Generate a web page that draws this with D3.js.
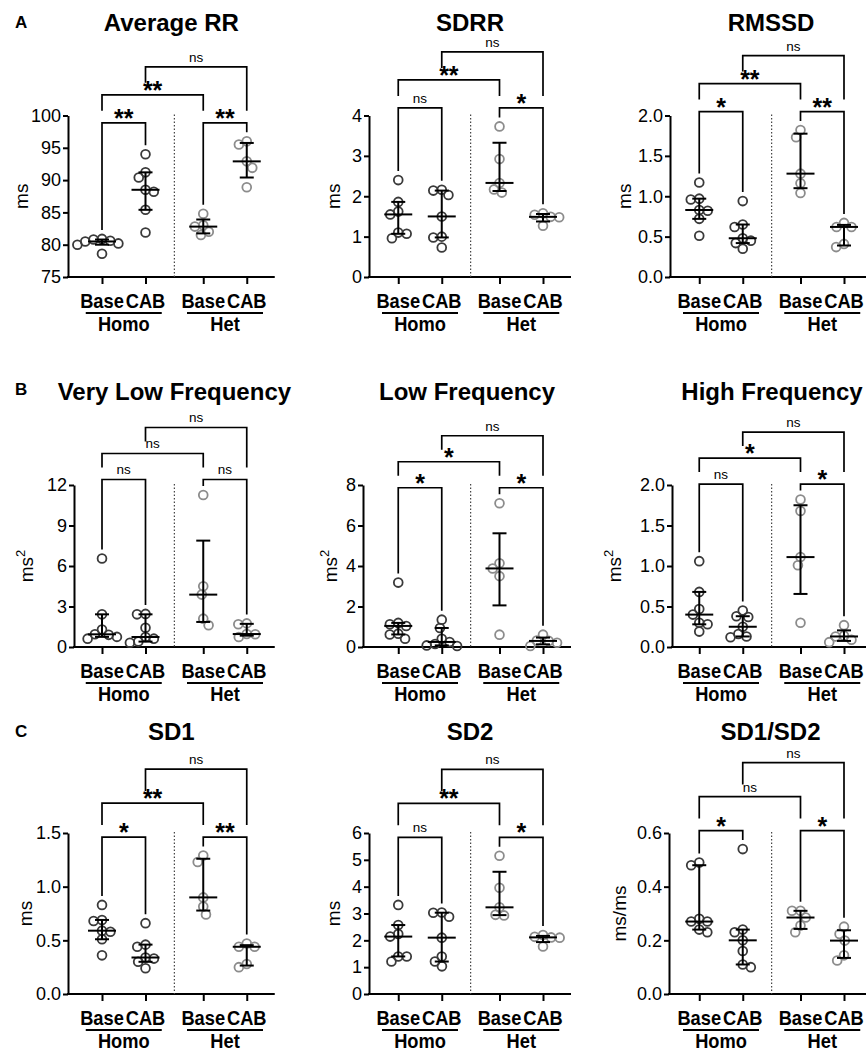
<!DOCTYPE html>
<html>
<head>
<meta charset="utf-8">
<script src="https://cdn.jsdelivr.net/npm/d3@7"></script>
<style>
  body { margin: 0; background: #fff; }
  svg { display: block; font-family: "Liberation Sans", Arial, sans-serif; }
</style>
</head>
<body>
<div id="chart"></div>
<script>
// ---- data ----
const genotypes = ['Homo', 'Het'];
const treatments = ['Base', 'CAB'];
const panelLetters = ['A', 'B', 'C'];
const titles = ['Average RR', 'SDRR', 'RMSSD', 'Very Low Frequency', 'Low Frequency',
  'High Frequency', 'SD1', 'SD2', 'SD1/SD2'];
const yUnits = ['ms', 'ms', 'ms', 'ms^2', 'ms^2', 'ms^2', 'ms', 'ms', 'ms/ms'];
const yDomains = [[75, 100], [0, 4], [0, 2], [0, 12], [0, 8], [0, 2], [0, 1.5], [0, 6], [0, 0.6]];
const yTicks = [
  [75, 80, 85, 90, 95, 100], [0, 1, 2, 3, 4], [0, 0.5, 1, 1.5, 2],
  [0, 3, 6, 9, 12], [0, 2, 4, 6, 8], [0, 0.5, 1, 1.5, 2],
  [0, 0.5, 1, 1.5], [0, 1, 2, 3, 4, 5, 6], [0, 0.2, 0.4, 0.6]
];
const tickDecimals = [0, 0, 1, 0, 0, 1, 1, 0, 1];

// groups in order: Homo Base, Homo CAB, Het Base, Het CAB
const avgRR = [
  [80.9, 80.8, 80.6, 80.5, 80.2, 80.0, 78.6],
  [94.0, 91.2, 90.4, 88.5, 88.2, 85.4, 81.9],
  [84.8, 83.0, 82.8, 82.0, 81.5],
  [96.0, 95.5, 92.9, 91.9, 88.9]
];
const sdrr = [
  [2.40, 1.86, 1.62, 1.55, 1.10, 1.07, 0.96],
  [2.16, 2.14, 2.03, 1.50, 1.00, 0.98, 0.73],
  [3.73, 2.92, 2.33, 2.17, 2.09],
  [1.58, 1.54, 1.49, 1.48, 1.27]
];
const rmssd = [
  [1.17, 0.97, 0.96, 0.83, 0.82, 0.72, 0.51],
  [0.94, 0.65, 0.62, 0.48, 0.45, 0.42, 0.35],
  [1.82, 1.73, 1.28, 1.16, 1.04],
  [0.67, 0.62, 0.62, 0.41, 0.37]
];
const vlf = [
  [6.56, 2.42, 1.29, 0.94, 0.90, 0.75, 0.62],
  [2.45, 2.42, 1.43, 0.74, 0.62, 0.40, 0.32],
  [11.26, 4.50, 3.88, 2.10, 1.61],
  [1.75, 1.68, 0.96, 0.94, 0.74]
];
const lf = [
  [3.18, 1.19, 1.12, 1.04, 0.66, 0.62, 0.41],
  [1.35, 0.94, 0.41, 0.25, 0.15, 0.08, 0.05],
  [7.10, 4.13, 3.88, 3.50, 0.61],
  [0.61, 0.32, 0.30, 0.21, 0.05]
];
const hf = [
  [1.06, 0.68, 0.47, 0.40, 0.30, 0.28, 0.19],
  [0.45, 0.38, 0.37, 0.25, 0.16, 0.13, 0.12],
  [1.82, 1.68, 1.11, 1.01, 0.30],
  [0.27, 0.14, 0.13, 0.09, 0.06]
];
const sd1 = [
  [0.83, 0.69, 0.68, 0.59, 0.58, 0.51, 0.36],
  [0.66, 0.46, 0.44, 0.34, 0.33, 0.30, 0.24],
  [1.29, 1.23, 0.90, 0.815, 0.74],
  [0.47, 0.44, 0.44, 0.28, 0.25]
];
const sd2 = [
  [3.32, 2.57, 2.24, 2.14, 1.40, 1.40, 1.21],
  [3.04, 3.03, 2.88, 2.10, 1.40, 1.21, 1.03],
  [5.15, 3.96, 3.23, 2.95, 2.93],
  [2.20, 2.13, 2.11, 2.10, 1.77]
];
const sd1sd2 = [
  [0.49, 0.48, 0.28, 0.27, 0.27, 0.24, 0.23],
  [0.54, 0.24, 0.23, 0.20, 0.16, 0.11, 0.10],
  [0.31, 0.31, 0.285, 0.255, 0.23],
  [0.251, 0.224, 0.199, 0.144, 0.125]
];
const panelData = [avgRR, sdrr, rmssd, vlf, lf, hf, sd1, sd2, sd1sd2];

// comparisons: [groupA, groupB, level]
const comparisons = [[0, 1, 1], [2, 3, 1], [0, 2, 2], [1, 3, 3]];
const significance = [
  ['**', '**', '**', 'ns'],
  ['ns', '*', '**', 'ns'],
  ['*', '**', '**', 'ns'],
  ['ns', 'ns', 'ns', 'ns'],
  ['*', '*', '*', 'ns'],
  ['ns', '*', '*', 'ns'],
  ['*', '**', '**', 'ns'],
  ['ns', '*', '**', 'ns'],
  ['*', '*', 'ns', 'ns']
];

// ---- layout ----
const W = 866, H = 1053;
const rowTop = [115.5, 485, 833];
const rowBottom = [277, 647, 994];
const titleY = [31, 400, 740];
const letterY = [28, 395, 737];
const bracketGap = [18.5, 15.5, 18.5];
const bracketStep = [28, 26, 34];
const firstGroupX = [123.75, 420, 721];
const groupStep = 101.25;
const innerHalf = 21.75;
const axisXs = [[68, 369, 670], [74, 363, 672], [68, 369, 669]];
const yTitleXs = [[28, 340, 631], [33, 337, 621], [32, 340, 626]];
const genoColor = { Homo: '#3a3a3a', Het: '#8c8c8c' };

const svg = d3.select('#chart').append('svg')
  .attr('width', W)
  .attr('height', H);
svg.append('rect').attr('width', W).attr('height', H).attr('fill', '#fff');

// GraphPad style percentile: position p*(n+1)
function percentile(sorted, p) {
  const n = sorted.length;
  const h = p * (n + 1) - 1;
  const lo = Math.floor(h);
  if (lo < 0) return sorted[0];
  if (lo >= n - 1) return sorted[n - 1];
  return sorted[lo] + (h - lo) * (sorted[lo + 1] - sorted[lo]);
}

// simple beeswarm: nearest free x offset
function swarm(values, y, D) {
  const placed = [];
  const order = values.slice().sort((a, b) => b - a);
  let lastSide = 1;
  order.forEach((v) => {
    const py = y(v);
    const blocks = [];
    placed.forEach((p) => {
      const dy = Math.abs(p.y - py);
      if (dy < D) {
        const half = Math.sqrt(D * D - dy * dy);
        blocks.push([p.x - half, p.x + half]);
      }
    });
    const cands = [0];
    blocks.forEach((b) => cands.push(b[0], b[1]));
    const free = cands.filter((cx) => blocks.every((b) => cx <= b[0] + 1e-6 || cx >= b[1] - 1e-6));
    free.sort((a, b) => {
      const d = Math.abs(a) - Math.abs(b);
      if (Math.abs(d) > 0.01) return d;
      return (b * -lastSide) - (a * -lastSide);
    });
    const x = free[0];
    if (x !== 0) lastSide = Math.sign(x);
    placed.push({ x, y: py, v });
  });
  return placed;
}

// bold, horizontally condensed label (GraphPad-like narrow bold)
function narrowLabel(sel, x, y, txt) {
  sel.append('text')
    .attr('transform', `translate(${x},${y}) scale(0.87,1)`)
    .attr('text-anchor', 'middle')
    .style('font-size', '21px')
    .style('font-weight', 'bold')
    .text(txt);
}

panelData.forEach((groups, i) => {
  const r = Math.floor(i / 3);
  const c = i % 3;
  const ax = axisXs[r][c];
  const g = svg.append('g');

  const y = d3.scaleLinear().domain(yDomains[i]).range([rowBottom[r], rowTop[r]]);
  const outer = d3.scalePoint().domain(genotypes).range([firstGroupX[c], firstGroupX[c] + groupStep]);
  const inner = d3.scalePoint().domain(treatments).range([-innerHalf, innerHalf]);
  const cats = [];
  genotypes.forEach((ge) => treatments.forEach((t) => cats.push({ geno: ge, treat: t, key: ge + ' ' + t })));
  const xCat = d3.scaleOrdinal()
    .domain(cats.map((d) => d.key))
    .range(cats.map((d) => outer(d.geno) + inner(d.treat)));
  const xEnd = outer('Het') + innerHalf + 28;

  // panel letter
  if (c === 0) {
    svg.append('text')
      .attr('x', 15)
      .attr('y', letterY[r])
      .style('font-size', '17px')
      .style('font-weight', 'bold')
      .text(panelLetters[r]);
  }

  // title
  g.append('text')
    .attr('x', (ax + xEnd) / 2)
    .attr('y', titleY[r])
    .attr('text-anchor', 'middle')
    .style('font-size', '24px')
    .style('font-weight', 'bold')
    .text(titles[i]);

  // y axis
  const yAxis = g.append('g')
    .attr('transform', `translate(${ax},0)`)
    .call(d3.axisLeft(y)
      .tickValues(yTicks[i])
      .tickSize(5)
      .tickSizeOuter(0)
      .tickPadding(2)
      .tickFormat(d3.format(tickDecimals[i] ? '.1f' : 'd')));
  yAxis.select('.domain').attr('stroke-width', 2).attr('stroke', '#000');
  yAxis.selectAll('.tick line').attr('stroke-width', 2).attr('stroke', '#000');
  yAxis.selectAll('.tick text')
    .style('font-size', '18px')
    .style('font-family', '"Liberation Sans", Arial, sans-serif')
    .attr('fill', '#000');

  // y title
  const unit = yUnits[i].split('^');
  const yt = g.append('text')
    .attr('transform', `translate(${yTitleXs[r][c]},${(rowTop[r] + rowBottom[r]) / 2}) rotate(-90)`)
    .attr('text-anchor', 'middle')
    .style('font-size', '19px')
    .text(unit[0]);
  if (unit[1]) {
    yt.append('tspan')
      .attr('dy', -8)
      .style('font-size', '13px')
      .text(unit[1]);
  }

  // x axis
  g.append('line')
    .attr('x1', ax - 1)
    .attr('x2', xEnd)
    .attr('y1', rowBottom[r])
    .attr('y2', rowBottom[r])
    .attr('stroke', '#000')
    .attr('stroke-width', 2);
  const xAxis = g.append('g')
    .attr('transform', `translate(0,${rowBottom[r]})`)
    .call(d3.axisBottom(xCat)
      .tickValues(cats.map((d) => d.key))
      .tickSize(7)
      .tickSizeOuter(0)
      .tickFormat(''));
  xAxis.select('.domain').remove();
  xAxis.selectAll('.tick line').attr('stroke-width', 2).attr('stroke', '#000');

  // treatment labels
  cats.forEach((d) => narrowLabel(g, xCat(d.key), rowBottom[r] + 31, d.treat));

  // genotype underline + label
  genotypes.forEach((ge) => {
    g.append('line')
      .attr('x1', outer(ge) - 38)
      .attr('x2', outer(ge) + 38)
      .attr('y1', rowBottom[r] + 36)
      .attr('y2', rowBottom[r] + 36)
      .attr('stroke', '#000')
      .attr('stroke-width', 2.2);
    narrowLabel(g, outer(ge), rowBottom[r] + 54, ge);
  });

  // dotted separator
  const sepX = (xCat('Homo CAB') + xCat('Het Base')) / 2;
  g.append('line')
    .attr('x1', sepX)
    .attr('x2', sepX)
    .attr('y1', rowTop[r] - 1)
    .attr('y2', rowBottom[r])
    .attr('stroke', '#444')
    .attr('stroke-width', 1.2)
    .attr('stroke-dasharray', '1.5,2');

  // points
  groups.forEach((vals, k) => {
    const cat = cats[k];
    const pts = swarm(vals, y, 8.5);
    g.selectAll(null)
      .data(pts)
      .enter()
      .append('circle')
      .attr('cx', (d) => xCat(cat.key) + d.x)
      .attr('cy', (d) => d.y)
      .attr('r', 4.4)
      .attr('fill', 'none')
      .attr('stroke', genoColor[cat.geno])
      .attr('stroke-width', 1.8);
  });

  // median with interquartile range
  groups.forEach((vals, k) => {
    const cx = xCat(cats[k].key);
    const s = vals.slice().sort(d3.ascending);
    const med = percentile(s, 0.5);
    const q1 = percentile(s, 0.25);
    const q3 = percentile(s, 0.75);
    const eb = g.append('g').attr('stroke', '#000').attr('stroke-width', 2);
    eb.append('line').attr('x1', cx).attr('x2', cx).attr('y1', y(q1)).attr('y2', y(q3));
    eb.append('line').attr('x1', cx - 7).attr('x2', cx + 7).attr('y1', y(q1)).attr('y2', y(q1));
    eb.append('line').attr('x1', cx - 7).attr('x2', cx + 7).attr('y1', y(q3)).attr('y2', y(q3));
    eb.append('line').attr('x1', cx - 14).attr('x2', cx + 14).attr('y1', y(med)).attr('y2', y(med));
  });

  // significance brackets
  const groupTop = groups.map((v) => y(d3.max(v)));
  const level1 = d3.min(groupTop) - bracketGap[r];
  const brackets = comparisons.map((cmp, j) => ({
    a: cmp[0],
    b: cmp[1],
    level: cmp[2],
    y: level1 - bracketStep[r] * (cmp[2] - 1),
    label: significance[i][j]
  }));
  brackets.forEach((br) => {
    const legEnd = (k) => {
      const lower = brackets.filter((o) => o.level < br.level && o.a <= k && o.b >= k);
      return lower.length ? d3.min(lower, (o) => o.y) - 12 : groupTop[k] - 9;
    };
    const xa = xCat(cats[br.a].key);
    const xb = xCat(cats[br.b].key);
    g.append('path')
      .attr('d', `M${xa},${legEnd(br.a)}V${br.y}H${xb}V${legEnd(br.b)}`)
      .attr('fill', 'none')
      .attr('stroke', '#000')
      .attr('stroke-width', 1.7);
    const ns = br.label === 'ns';
    g.append('text')
      .attr('x', (xa + xb) / 2)
      .attr('y', ns ? br.y - 5 : br.y + 4)
      .attr('text-anchor', 'middle')
      .style('font-size', ns ? '13.5px' : '25px')
      .style('font-weight', ns ? 'normal' : 'bold')
      .text(br.label);
  });
});
</script>
</body>
</html>
